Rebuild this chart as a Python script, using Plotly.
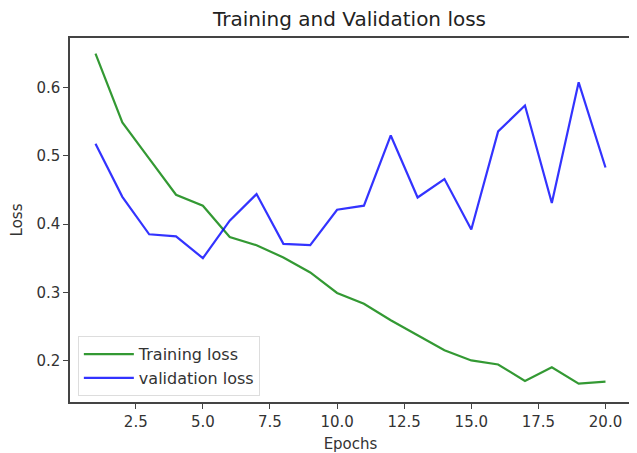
import plotly.graph_objects as go

epochs = list(range(1, 21))
training_loss = [0.650, 0.549, 0.496, 0.443, 0.427, 0.381, 0.369, 0.351, 0.329, 0.299,
                 0.283, 0.259, 0.237, 0.215, 0.200, 0.194, 0.170, 0.190, 0.166, 0.169]
validation_loss = [0.518, 0.440, 0.385, 0.382, 0.350, 0.405, 0.444, 0.371, 0.369, 0.421,
                   0.427, 0.530, 0.439, 0.466, 0.392, 0.536, 0.574, 0.431, 0.608, 0.483]

fig = go.Figure()
fig.add_trace(go.Scatter(x=epochs, y=training_loss, mode="lines", name="Training loss",
                         line=dict(color="rgba(0,128,0,0.8)", width=2.2)))
fig.add_trace(go.Scatter(x=epochs, y=validation_loss, mode="lines", name="validation loss",
                         line=dict(color="rgba(0,0,255,0.8)", width=2.2)))

axis_style = dict(showgrid=False, zeroline=False, showline=True, mirror=True,
                  linecolor="#444444", linewidth=1.5, ticks="outside", ticklen=5,
                  tickwidth=1.3, tickcolor="#444444", automargin=False,
                  tickfont=dict(size=15, color="#333333"))

# page body has an 8px margin, so the figure is a bit smaller than the window
fig.update_layout(
    width=629, height=445,
    paper_bgcolor="white", plot_bgcolor="white",
    font=dict(family="DejaVu Sans", color="#333333"),
    margin=dict(l=62, r=6, t=30, b=51),
    title=dict(text="Training and Validation loss", x=0.543, xanchor="center",
               y=0.975, yanchor="middle", font=dict(size=20, color="#222222")),
    xaxis=dict(title=dict(text="Epochs", font=dict(size=15), standoff=13),
               range=[0.05, 20.95], tickvals=[2.5, 5, 7.5, 10, 12.5, 15, 17.5, 20],
               ticktext=["2.5", "5.0", "7.5", "10.0", "12.5", "15.0", "17.5", "20.0"],
               **axis_style),
    yaxis=dict(title=dict(text="Loss", font=dict(size=15), standoff=13),
               range=[0.139, 0.673], tickvals=[0.2, 0.3, 0.4, 0.5, 0.6],
               **axis_style),
    legend=dict(x=0.014, y=0.016, xanchor="left", yanchor="bottom",
                itemwidth=50,
                bgcolor="rgba(255,255,255,0.8)", bordercolor="#dddddd", borderwidth=1,
                font=dict(size=16, color="#333333")),
    showlegend=True,
)

fig.write_html("out.html")
